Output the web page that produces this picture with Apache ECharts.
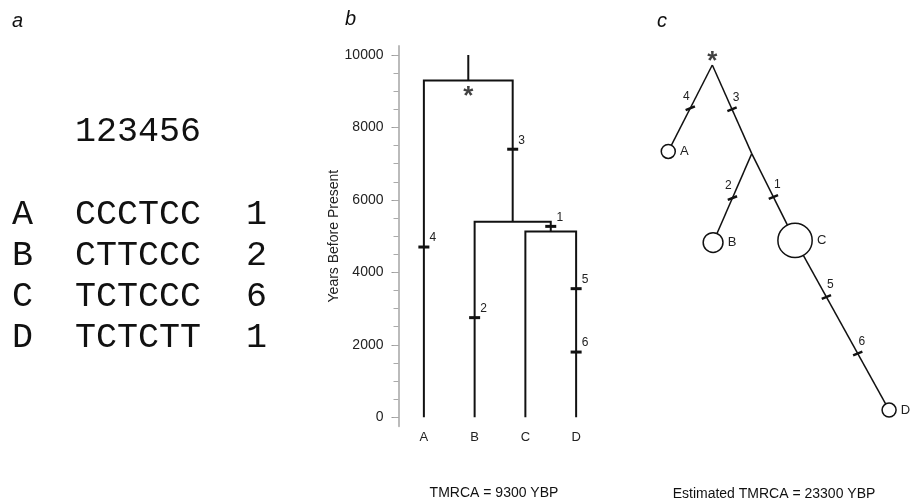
<!DOCTYPE html>
<html>
<head>
<meta charset="utf-8">
<script src="https://cdn.jsdelivr.net/npm/echarts@6/dist/echarts.min.js"></script>
<style>
html, body { margin: 0; padding: 0; background: #fff; }
#chart { width: 912px; height: 504px; }
</style>
</head>
<body>
<div id="chart"></div>
<script>
// panel a: haplotype alignment
var seqNames = ['A', 'B', 'C', 'D'];
var seqSites = '123456';
var sequences = ['CCCTCC', 'CTTCCC', 'TCTCCC', 'TCTCTT'];
var haploCounts = [1, 2, 6, 1];

// panel b: tree, ages in years before present
var tipNames = ['A', 'B', 'C', 'D'];
var treeNodes = [
	{ id : 'CD', children : [ 'C', 'D' ], age : 5130 },
	{ id : 'BCD', children : [ 'B', 'CD' ], age : 5400 },
	{ id : 'root', children : [ 'A', 'BCD' ], age : 9300 }
];
var rootStemTop = 10000;
var mutSites = [4, 3, 2, 1, 5, 6];
var mutBranch = ['A', 'BCD', 'B', 'CD', 'D', 'D'];
var mutAges = [4700, 7400, 2750, 5270, 3550, 1800];
var yLabelValues = [0, 2000, 4000, 6000, 8000, 10000];
var yMinorValues = [0, 500, 1000, 1500, 2000, 2500, 3000, 3500, 4000, 4500, 5000,
		5500, 6000, 6500, 7000, 7500, 8000, 8500, 9000, 9500, 10000];
var treeCaption = 'TMRCA = 9300 YBP';

// panel c: network, mutations on each edge
var netEdges = [
	{ from : 'root', to : 'A', sites : [ 4 ] },
	{ from : 'root', to : 'J', sites : [ 3 ] },
	{ from : 'J', to : 'B', sites : [ 2 ] },
	{ from : 'J', to : 'C', sites : [ 1 ] },
	{ from : 'C', to : 'D', sites : [ 5, 6 ] }
];
var netCaption = 'Estimated TMRCA = 23300 YBP';

// layout of the network: direction of each edge, degrees off vertical
var netAngle = { A : -27, J : 24, B : -23.5, C : 26.5, D : 29 };

var SANS = 'Liberation Sans';
var MONO = 'Liberation Mono';

// tree geometry (x in tip index units)
var bx = {}, bage = {};
tipNames.forEach(function(n, i) { bx[n] = i; bage[n] = 0; });
treeNodes.forEach(function(nd) {
	bx[nd.id] = (bx[nd.children[0]] + bx[nd.children[1]]) / 2;
	bage[nd.id] = nd.age;
});
var treeSegs = treeNodes.map(function(nd) {
	var c0 = nd.children[0], c1 = nd.children[1];
	return { coords : [ [ bx[c0], bage[c0] ], [ bx[c0], nd.age ],
			[ bx[c1], nd.age ], [ bx[c1], bage[c1] ] ] };
});
treeSegs.push({ coords : [ [ bx.root, bage.root ], [ bx.root, rootStemTop ] ] });
var treeMuts = mutSites.map(function(s, i) {
	return [ bx[mutBranch[i]], mutAges[i], s ];
});

// network geometry (one unit = one mutation step)
var npos = { root : [ 0, 0 ] };
netEdges.forEach(function(e) {
	var a = netAngle[e.to] * Math.PI / 180, len = e.sites.length, p = npos[e.from];
	npos[e.to] = [ p[0] + Math.sin(a) * len, p[1] + Math.cos(a) * len ];
});
var netLines = netEdges.map(function(e) {
	return { coords : [ npos[e.from], npos[e.to] ] };
});
var netMuts = [];
netEdges.forEach(function(e) {
	var p = npos[e.from], q = npos[e.to], k = e.sites.length;
	e.sites.forEach(function(s, i) {
		var t = (i + 1) / (k + 1);
		netMuts.push({
			value : [ p[0] + (q[0] - p[0]) * t, p[1] + (q[1] - p[1]) * t, s ],
			label : { offset : [ q[0] > p[0] ? 4 : -4, -12 ] }
		});
	});
});
var netHaps = seqNames.map(function(n, i) {
	return [ npos[n][0], npos[n][1], n, haploCounts[i] ];
});

// panel a texts
var graphics = [];
function txt(x, y, text, font, align) {
	graphics.push({
		type : 'text', x : x, y : y, silent : true,
		style : { text : text, font : font, fill : '#111',
			textAlign : align || 'left', textVerticalAlign : 'middle' }
	});
}
txt(12, 21, 'a', 'italic 20px "' + SANS + '"');
txt(345, 19, 'b', 'italic 20px "' + SANS + '"');
txt(657, 21, 'c', 'italic 20px "' + SANS + '"');
txt(75, 132, seqSites, '35px "' + MONO + '"');
seqNames.forEach(function(n, i) {
	var y = 215 + i * 41;
	txt(12, y, n, '35px "' + MONO + '"');
	txt(75, y, sequences[i], '35px "' + MONO + '"');
	txt(246, y, String(haploCounts[i]), '35px "' + MONO + '"');
});
txt(494, 493, treeCaption, '14px "' + SANS + '"', 'center');
txt(774, 494, netCaption, '14px "' + SANS + '"', 'center');

var option = {
	animation : false,
	backgroundColor : '#fff',
	textStyle : { fontFamily : SANS },
	graphic : graphics,
	grid : [
		{ left : 398.5, top : 46, width : 203, height : 380.3 },
		{ left : 615.3, top : 65, width : 291, height : 436.5 }
	],
	xAxis : [ {
		gridIndex : 0, type : 'value', min : -0.5, max : 3.5, show : false
	}, {
		gridIndex : 0, type : 'category', data : tipNames, position : 'bottom',
		axisLine : { show : false },
		axisTick : { show : false },
		axisLabel : { color : '#222', fontSize : 13, margin : 5 }
	}, {
		gridIndex : 1, type : 'value', min : -1, max : 2, show : false
	} ],
	yAxis : [ {
		gridIndex : 0, type : 'value', min : -250, max : 10250, position : 'left',
		name : 'Years Before Present', nameLocation : 'middle', nameGap : 55,
		nameTextStyle : { color : '#222', fontSize : 14 },
		axisLine : { show : true, onZero : false, lineStyle : { color : '#bbb', width : 2 } },
		axisTick : { show : true, length : 7, customValues : yLabelValues,
			lineStyle : { color : '#999' } },
		axisLabel : { customValues : yLabelValues, color : '#222', fontSize : 14, margin : 15,
			formatter : function(v) { return String(v); } },
		splitLine : { show : false }
	}, {
		gridIndex : 0, type : 'value', min : -250, max : 10250, position : 'left',
		axisLine : { show : false, onZero : false },
		axisTick : { show : true, length : 5, customValues : yMinorValues,
			lineStyle : { color : '#aaa' } },
		axisLabel : { show : false },
		splitLine : { show : false }
	}, {
		gridIndex : 1, type : 'value', min : 0, max : 4.5, inverse : true, show : false
	} ],
	series : [ {
		type : 'lines', coordinateSystem : 'cartesian2d', xAxisIndex : 0, yAxisIndex : 0,
		polyline : true, silent : true,
		lineStyle : { color : '#111', width : 2, opacity : 1 },
		data : treeSegs
	}, {
		type : 'scatter', xAxisIndex : 0, yAxisIndex : 0, silent : true,
		symbol : 'rect', symbolSize : [ 11, 3 ],
		itemStyle : { color : '#111', opacity : 1 },
		label : { show : true, position : 'inside', offset : [ 9, -9 ],
			formatter : function(p) { return p.value[2]; },
			color : '#222', fontSize : 12 },
		data : treeMuts, z : 3
	}, {
		type : 'scatter', xAxisIndex : 0, yAxisIndex : 0, silent : true,
		symbolSize : 1, itemStyle : { color : 'rgba(0,0,0,0)' },
		label : { show : true, position : 'inside', offset : [ 0, 16 ], formatter : '*',
			color : '#111', fontSize : 26, fontWeight : 'bold' },
		data : [ [ bx.root, bage.root ] ]
	}, {
		type : 'lines', coordinateSystem : 'cartesian2d', xAxisIndex : 2, yAxisIndex : 2,
		silent : true,
		lineStyle : { color : '#111', width : 1.5, opacity : 1 },
		data : netLines
	}, {
		type : 'scatter', xAxisIndex : 2, yAxisIndex : 2, silent : true,
		symbol : 'rect', symbolSize : [ 10, 2.5 ], symbolRotate : 22,
		itemStyle : { color : '#111', opacity : 1 },
		label : { show : true, position : 'inside',
			formatter : function(p) { return p.value[2]; },
			color : '#222', fontSize : 12 },
		data : netMuts, z : 3
	}, {
		type : 'scatter', xAxisIndex : 2, yAxisIndex : 2, silent : true,
		symbolSize : function(v) { return 14 * Math.sqrt(v[3]); },
		itemStyle : { color : '#fff', borderColor : '#111', borderWidth : 1.5, opacity : 1 },
		label : { show : true, position : 'right', distance : 4,
			formatter : function(p) { return p.value[2]; },
			color : '#222', fontSize : 13 },
		data : netHaps, z : 4
	}, {
		type : 'scatter', xAxisIndex : 2, yAxisIndex : 2, silent : true,
		symbolSize : 1, itemStyle : { color : 'rgba(0,0,0,0)' },
		label : { show : true, position : 'inside', offset : [ 0, -3 ], formatter : '*',
			color : '#111', fontSize : 26, fontWeight : 'bold' },
		data : [ npos.root ]
	} ]
};

var chart = echarts.init(document.getElementById('chart'));
chart.setOption(option);
</script>
</body>
</html>
